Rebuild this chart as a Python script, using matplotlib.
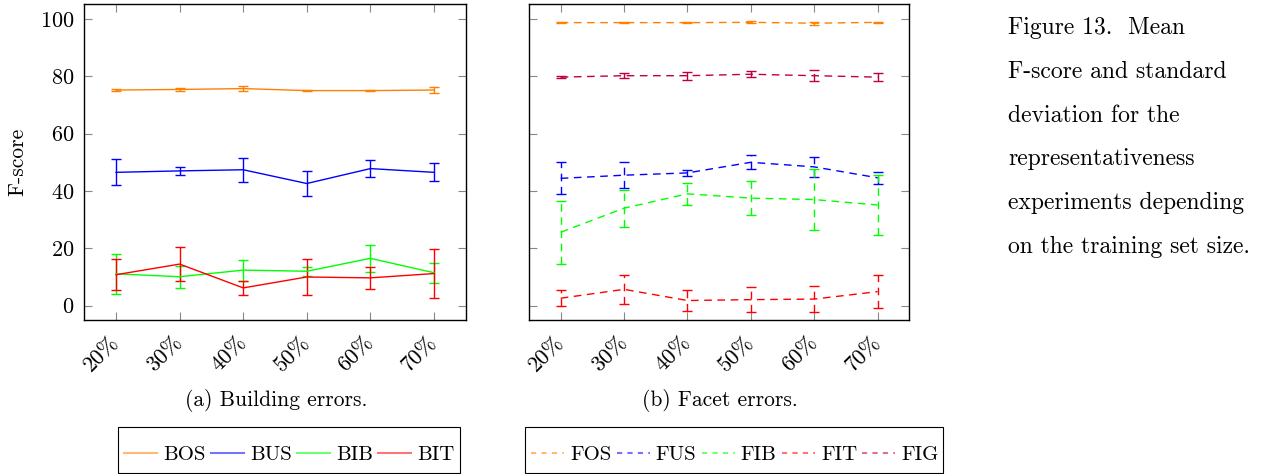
import matplotlib
matplotlib.use("Agg")
import matplotlib.pyplot as plt
from matplotlib.lines import Line2D
from matplotlib.patches import Rectangle

plt.rcParams['font.family'] = ['cmr10', 'DejaVu Serif']
plt.rcParams['axes.formatter.use_mathtext'] = True
plt.rcParams['mathtext.fontset'] = 'cm'

# ---- data ----
sizes = ["20%", "30%", "40%", "50%", "60%", "70%"]

bos_mean = [75.2, 75.4, 75.7, 75.0, 75.0, 75.2]
bos_std = [0.5, 0.6, 0.9, 0.2, 0.3, 1.0]
bus_mean = [46.5, 47.0, 47.4, 42.6, 47.8, 46.5]
bus_std = [4.5, 1.3, 4.1, 4.3, 3.1, 3.1]
bib_mean = [11.1, 10.1, 12.4, 12.0, 16.5, 11.5]
bib_std = [7.0, 3.8, 3.7, 1.5, 4.6, 3.5]
bit_mean = [10.8, 14.5, 6.2, 10.0, 9.7, 11.2]
bit_std = [5.5, 5.8, 2.5, 6.2, 3.9, 8.5]

fos_mean = [98.7, 98.7, 98.7, 98.8, 98.5, 98.8]
fos_std = [0.3, 0.3, 0.3, 0.3, 0.5, 0.2]
fus_mean = [44.4, 45.5, 46.3, 50.0, 48.4, 44.6]
fus_std = [5.6, 4.5, 1.0, 2.4, 3.5, 2.0]
fib_mean = [25.6, 34.0, 39.0, 37.5, 37.0, 35.1]
fib_std = [11.0, 6.5, 3.8, 5.9, 10.6, 10.5]
fit_mean = [2.6, 5.7, 1.8, 2.1, 2.3, 4.9]
fit_std = [2.8, 5.1, 3.5, 4.4, 4.6, 5.8]
fig_mean = [79.7, 80.2, 80.2, 80.7, 80.2, 79.7]
fig_std = [0.3, 0.9, 1.4, 1.0, 2.0, 1.5]

yticks = [0, 20, 40, 60, 80, 100]

caption_lines = ["Figure 13.  Mean", "F-score and standard", "deviation for the",
                 "representativeness", "experiments depending",
                 "on the training set size."]

# ---- colours ----
C_OR = "#FF8000"
C_BL = "#0000FF"
C_GR = "#00FF00"
C_RD = "#FF0000"
C_PU = "#BF0040"

FS_TICK = 16
FS_TXT = 15.5
FS_LEG = 15
FS_CAP = 17

W, H = 1273, 474
fig = plt.figure(figsize=(W / 100, H / 100), dpi=100)
ax1 = fig.add_axes([84.3 / W, 1 - 320.3 / H, 381.4 / W, 316.3 / H])
ax2 = fig.add_axes([529 / W, 1 - 320.3 / H, 380.3 / W, 316.3 / H])

x = list(range(len(sizes)))
DASH = (0, (5.5, 4))


def draw(ax, mean, std, color, dashed):
    ls = DASH if dashed else '-'
    eb = ax.errorbar(x, mean, yerr=std, color=color, lw=1.0, elinewidth=1.0,
                     capsize=3.5, capthick=1.0, linestyle=ls)
    if dashed:
        for c in eb[2]:
            c.set_linestyle(DASH)
    return eb


draw(ax1, bos_mean, bos_std, C_OR, False)
draw(ax1, bus_mean, bus_std, C_BL, False)
draw(ax1, bib_mean, bib_std, C_GR, False)
draw(ax1, bit_mean, bit_std, C_RD, False)

draw(ax2, fos_mean, fos_std, C_OR, True)
draw(ax2, fus_mean, fus_std, C_BL, True)
draw(ax2, fib_mean, fib_std, C_GR, True)
draw(ax2, fit_mean, fit_std, C_RD, True)
draw(ax2, fig_mean, fig_std, C_PU, True)

for ax in (ax1, ax2):
    ax.set_xlim(-0.5, 5.5)
    ax.set_ylim(-5.1, 105.2)
    ax.set_xticks(x)
    ax.set_xticklabels(sizes, rotation=45, ha='right', va='center',
                       rotation_mode='anchor', fontsize=FS_TICK)
    ax.set_yticks(yticks)
    ax.tick_params(direction='in', length=6, width=0.8, color='#888888',
                   top=True, right=True, labelsize=FS_TICK, pad=7)
    ax.tick_params(axis='x', pad=14)
    for s in ax.spines.values():
        s.set_linewidth(1.0)
        s.set_color('black')

ax2.set_yticklabels([])
ax1.set_ylabel("F-score", fontsize=FS_TXT, labelpad=9)

fig.text(276 / W, 1 - 400 / H, "(a) Building errors.", ha='center',
         va='center', fontsize=FS_TXT)
fig.text(720 / W, 1 - 400 / H, "(b) Facet errors.", ha='center',
         va='center', fontsize=FS_TXT)

# legends
h1 = [Line2D([], [], color=c, lw=1.5, alpha=0.55) for c in (C_OR, C_BL, C_GR, C_RD)]
l1 = ["BOS", "BUS", "BIB", "BIT"]
h2 = [Line2D([], [], color=c, lw=1.5, alpha=0.55, linestyle=(0, (2.5, 2.5)))
      for c in (C_OR, C_BL, C_GR, C_RD, C_PU)]
l2 = ["FOS", "FUS", "FIB", "FIT", "FIG"]

common = dict(loc='center left', frameon=False, fontsize=FS_LEG,
              handlelength=1.58, handletextpad=0.3, columnspacing=0.25,
              borderpad=0.0, borderaxespad=0)
leg1 = fig.legend(h1, l1, ncol=4, bbox_to_anchor=(124 / W, 1 - 455 / H), **common)
leg2 = fig.legend(h2, l2, ncol=5, bbox_to_anchor=(531 / W, 1 - 455 / H), **common)

# frames of the legend boxes (top edge visible, bottom cut by figure edge)
for (x0, x1) in ((118, 460), (525, 943)):
    fig.patches.append(Rectangle((x0 / W, 1 - 473 / H), (x1 - x0) / W, 46 / H,
                                 transform=fig.transFigure, fill=False,
                                 edgecolor='black', linewidth=0.8))

for i, line in enumerate(caption_lines):
    fig.text(1008 / W, 1 - (28 + 43.8 * i) / H, line, ha='left',
             va='center', fontsize=FS_CAP)

fig.savefig("out.png", dpi=100)
